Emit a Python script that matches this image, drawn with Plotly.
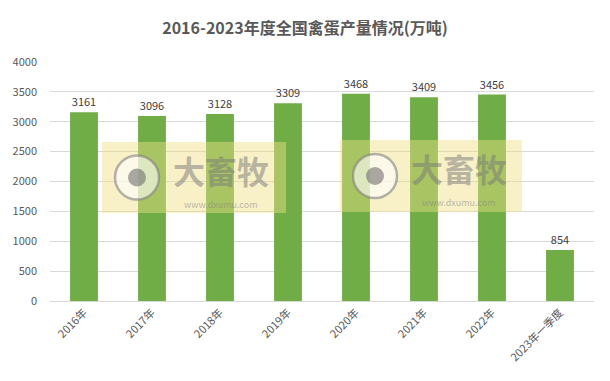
import plotly.graph_objects as go

categories = ["2016年", "2017年", "2018年", "2019年", "2020年", "2021年", "2022年", "2023年一季度"]
values = [3161, 3096, 3128, 3309, 3468, 3409, 3456, 854]
y_ticks = [0, 500, 1000, 1500, 2000, 2500, 3000, 3500, 4000]

FONT = "Noto Sans CJK SC, Microsoft YaHei, sans-serif"

fig = go.Figure()
fig.add_trace(go.Bar(
    x=categories, y=values,
    marker=dict(color="#70AD47", line=dict(width=0)),
    width=0.41,
    text=[str(v) for v in values],
    textposition="outside",
    textfont=dict(size=11, color="#404040", family=FONT),
    cliponaxis=False,
))

L, T, PW, PH = 50, 62, 544, 239


def px(x):
    return (x - L) / PW


def py(y):
    return (T + PH - y) / PH


# watermark boxes
shapes = []
annotations = []
for (x0, x1, y0, y1) in [(102, 286, 142, 213), (340, 522, 140, 212)]:
    shapes.append(dict(type="rect", xref="paper", yref="paper",
                       x0=px(x0), x1=px(x1), y0=py(y1), y1=py(y0),
                       fillcolor="rgba(240,225,130,0.45)", line=dict(width=0), layer="above"))
    cx = x0 + 35
    cy = (y0 + y1) / 2
    shapes.append(dict(type="circle", xref="paper", yref="paper",
                       x0=px(cx - 22), x1=px(cx + 22), y0=py(cy + 22), y1=py(cy - 22),
                       fillcolor="rgba(255,255,255,0.6)", line=dict(color="rgba(130,130,130,0.6)", width=2.5), layer="above"))
    shapes.append(dict(type="circle", xref="paper", yref="paper",
                       x0=px(cx - 9), x1=px(cx + 9), y0=py(cy + 9), y1=py(cy - 9),
                       fillcolor="rgba(100,100,100,0.55)", line=dict(width=0), layer="above"))
    annotations.append(dict(xref="paper", yref="paper", x=px(x0 + 119), y=py(cy + 17),
                            xanchor="center", yanchor="bottom", text="<b>大畜牧</b>", showarrow=False,
                            font=dict(size=32, color="rgba(120,120,120,0.5)", family=FONT)))
    annotations.append(dict(xref="paper", yref="paper", x=px(x0 + 119), y=py(cy + 18),
                            xanchor="center", yanchor="top", text="www.dxumu.com", showarrow=False,
                            font=dict(size=9, color="rgba(130,130,130,0.55)", family=FONT)))

fig.update_layout(
    width=610, height=381,
    margin=dict(l=L, r=610 - L - PW, t=T, b=381 - T - PH, autoexpand=False),
    paper_bgcolor="white", plot_bgcolor="white",
    title=dict(text="<b>2016-2023年度全国禽蛋产量情况(万吨)</b>", x=0.5, xanchor="center",
               y=0.925, yanchor="middle",
               font=dict(size=16, color="#595959", family=FONT)),
    font=dict(family=FONT, color="#595959"),
    showlegend=False,
    shapes=shapes,
    annotations=annotations,
)
fig.update_xaxes(tickangle=-45, tickfont=dict(size=11, color="#595959"), automargin=False,
                 showline=True, linecolor="#d9d9d9", linewidth=1, ticks="", showgrid=False)
fig.update_yaxes(range=[0, 4000], tickvals=y_ticks, tickfont=dict(size=11, color="#595959"), automargin=False,
                 showgrid=True, gridcolor="#d9d9d9", gridwidth=1, zeroline=False, ticks="",
                 ticklabelstandoff=12)

fig.write_html("out.html", config={"displayModeBar": False},
               post_script="document.body.style.margin='0';")
